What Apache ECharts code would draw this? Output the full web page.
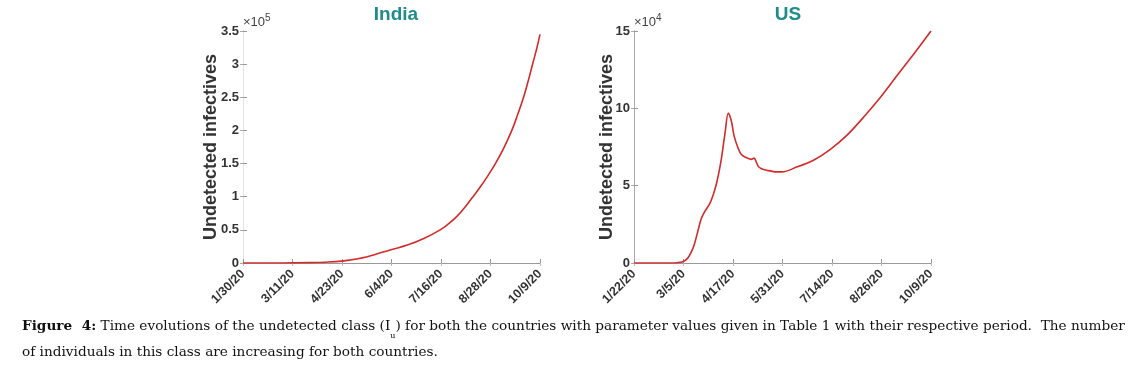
<!DOCTYPE html>
<html><head><meta charset="utf-8">
<script src="https://cdn.jsdelivr.net/npm/echarts@6/dist/echarts.min.js"></script>
<style>html,body{margin:0;padding:0;background:#fff}#c{width:1135px;height:366px}</style>
</head><body><div id="c"></div>
<script>
// ---- India ----
const indiaTickLabels = ['1/30/20','3/11/20','4/23/20','6/4/20','7/16/20','8/28/20','10/9/20'];
const indiaSpanDays = 253;
const indiaDays   = [0,14,28,42,56,70,84,98,105,112,126,140,154,168,175,182,189,195,201,208,215,222,229,234,239,243,247,250,253];
const indiaValues = [0,20,60,200,500,1200,2800,6500,9000,12500,20000,27000,37000,50000,59000,70000,84000,98000,112000,130000,150000,173000,200000,224000,250000,275000,302000,322000,345000];
const indiaYTicks = ['0','0.5','1','1.5','2','2.5','3','3.5'];

// ---- US ----
const usTickLabels = ['1/22/20','3/5/20','4/17/20','5/31/20','7/14/20','8/26/20','10/9/20'];
const usSpanDays = 261;
const usDays   = [0,20,30,38,43,47,50,53,56.4,59,62,66.7,70,72.5,75,77,79.9,82.8,84,85.8,88,91.6,94,97.5,103.4,105.5,106.5,109.2,112,116.6,125.4,130,143,157.7,172.3,187,201.7,216.4,231,245.7,261];
const usValues = [0,0,0,200,800,3000,6500,12000,21400,28500,33000,38600,45000,51400,60000,68500,83500,97000,95500,91000,82000,74000,70500,68500,67000,67800,67000,62500,61000,60000,58900,58900,62000,66400,73300,82500,94200,107000,121000,135000,150000];
const usYTicks = ['0','5','10','15'];

const titles = ['India','US'];
const multipliers = ['5','4'];
const yAxisName = 'Undetected infectives';
const captionBold = 'Figure  4:';
const captionLine1 = ' Time evolutions of the undetected class (I';
const captionSub = 'u';
const captionLine1b = ') for both the countries with parameter values given in Table 1 with their respective period.  The number';
const captionLine2 = 'of individuals in this class are increasing for both countries.';

const chart = echarts.init(document.getElementById('c'));
const FONT = 'Liberation Sans, Arial, sans-serif';
const lineColor = '#d42a2a';
const CAP = '13.65px DejaVu Serif';

function ticks(span){ const a=[]; for(let i=0;i<=6;i++) a.push(i*span/6); return a; }
function xMain(gi, span, labels){
  const cv = ticks(span);
  return {type:'value', gridIndex:gi, min:0, max:span, position:'bottom',
    axisLine:{show:true, lineStyle:{color:'#999', width:1}},
    axisTick:{show:true, inside:true, length:4, customValues:cv, lineStyle:{color:'#999'}},
    axisLabel:{show:true, customValues:cv, rotate:45, margin:9, color:'#333', fontFamily:FONT, fontWeight:'bold', fontSize:12.5,
      formatter:(v)=>labels[Math.round(v/(span/6))]},
    splitLine:{show:false}};
}
function xTop(gi, span){
  const cv = ticks(span);
  return {type:'value', gridIndex:gi, min:0, max:span, position:'top',
    axisLine:{show:false}, axisTick:{show:true, inside:true, length:3, customValues:cv, lineStyle:{color:'#bbb'}},
    axisLabel:{show:false}, splitLine:{show:false}};
}
function yMain(gi, max, step, labels){
  return {type:'value', gridIndex:gi, min:0, max:max, interval:step, position:'left',
    name:yAxisName, nameLocation:'middle', nameGap:gi===0?23:18, nameRotate:90, nameMoveOverlap:false,
    nameTextStyle:{fontFamily:FONT, fontWeight:'bold', fontSize:18, color:'#333'},
    axisLine:{show:true, lineStyle:{color:'#999'}},
    axisTick:{show:true, inside:true, length:4, lineStyle:{color:'#999'}},
    axisLabel:{color:'#333', fontFamily:FONT, fontWeight:'bold', fontSize:13, margin:4,
      formatter:(v)=>labels[Math.round(v/step)]},
    splitLine:{show:false}};
}
function yRight(gi, max, step){
  return {type:'value', gridIndex:gi, min:0, max:max, interval:step, position:'right',
    axisLine:{show:true, lineStyle:{color: gi===0?'#e4e4e4':'#aaa'}},
    axisTick:{show:true, inside:true, length:3, lineStyle:{color:'#aaa'}},
    axisLabel:{show:false}, splitLine:{show:false}};
}

const option = {
  animation:false,
  backgroundColor:'#fff',
  title:[
    {text:titles[0], left:391, top:0, textAlign:'center', textStyle:{color:'#1f8b8b', fontFamily:FONT, fontWeight:'bold', fontSize:19}},
    {text:titles[1], left:783, top:0, textAlign:'center', textStyle:{color:'#1f8b8b', fontFamily:FONT, fontWeight:'bold', fontSize:19}}
  ],
  grid:[
    {left:243, top:31, width:297, height:232, containLabel:false},
    {left:634, top:31, width:297, height:232, containLabel:false}
  ],
  xAxis:[ xMain(0, indiaSpanDays, indiaTickLabels), xTop(0, indiaSpanDays),
          xMain(1, usSpanDays, usTickLabels), xTop(1, usSpanDays) ],
  yAxis:[ yMain(0, 350000, 50000, indiaYTicks), yRight(0, 350000, 50000),
          yMain(1, 150000, 50000, usYTicks), yRight(1, 150000, 50000) ],
  series:[
    {type:'line', xAxisIndex:0, yAxisIndex:0, data:indiaDays.map((d,i)=>[d,indiaValues[i]]),
      showSymbol:false, smooth:0.4, lineStyle:{color:lineColor, width:1.6}},
    {type:'line', xAxisIndex:2, yAxisIndex:2, data:usDays.map((d,i)=>[d,usValues[i]]),
      showSymbol:false, smooth:0.3, lineStyle:{color:lineColor, width:1.6}}
  ],
  graphic:[
    {type:'text', left:243, top:13, style:{text:'×10{s|'+multipliers[0]+'}', fill:'#444', font:'13px '+FONT,
      rich:{s:{fontSize:10, fill:'#444', fontFamily:FONT, padding:[0,0,9,0]}}}},
    {type:'text', left:634, top:13, style:{text:'×10{s|'+multipliers[1]+'}', fill:'#444', font:'13px '+FONT,
      rich:{s:{fontSize:10, fill:'#444', fontFamily:FONT, padding:[0,0,9,0]}}}},
    {type:'text', left:22, top:319, style:{text:'{b|'+captionBold+'}'+captionLine1+'{sub|'+captionSub+'}'+captionLine1b,
      fill:'#111', font:CAP,
      rich:{b:{fontWeight:'bold', fontFamily:'DejaVu Serif', fontSize:13.65, fill:'#111'},
            sub:{fontFamily:'DejaVu Serif', fontSize:8, fill:'#111', padding:[20,0,0,0]}}}},
    {type:'text', left:22, top:345, style:{text:captionLine2, fill:'#111', font:CAP}}
  ]
};
chart.setOption(option);
</script></body></html>
